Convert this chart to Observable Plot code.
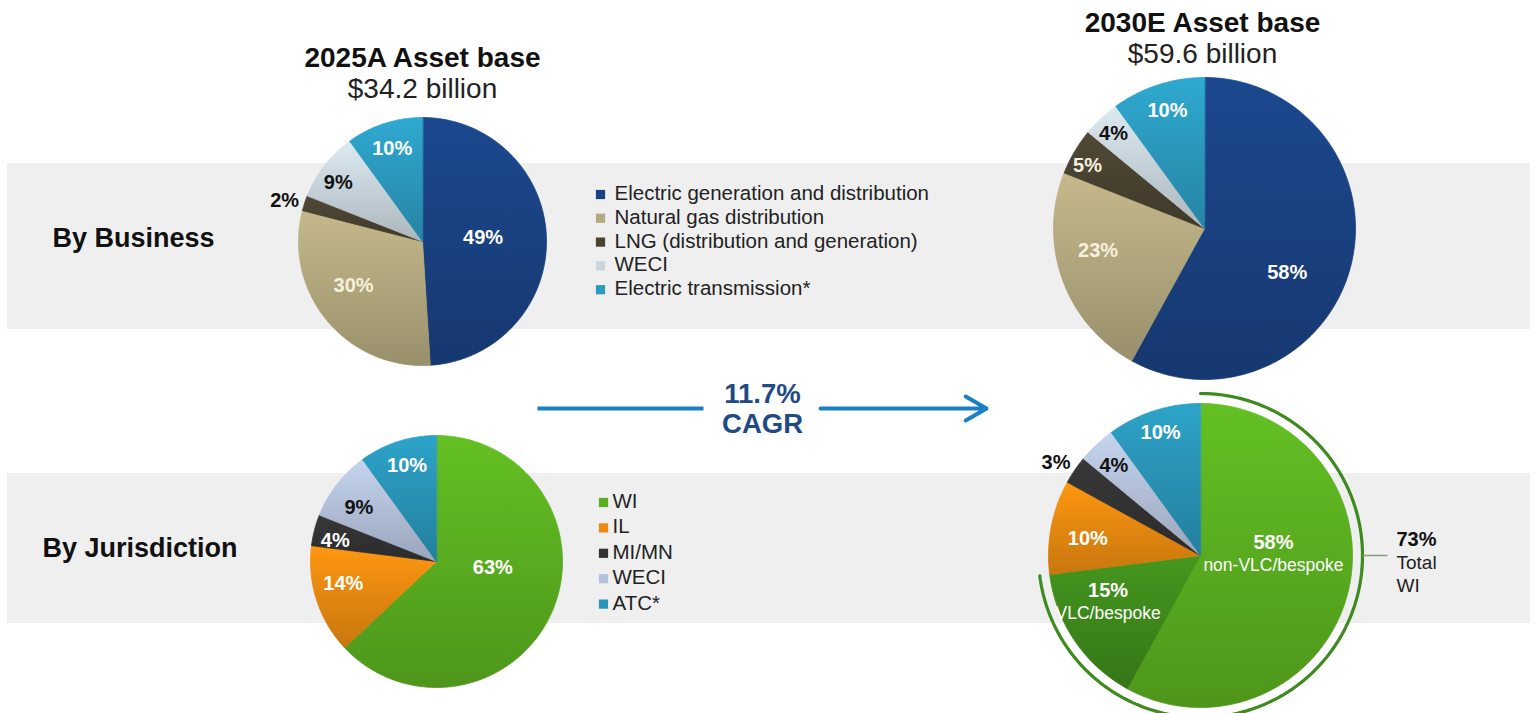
<!DOCTYPE html>
<html><head><meta charset="utf-8">
<script src="https://cdn.jsdelivr.net/npm/d3@7"></script>
<script src="https://cdn.jsdelivr.net/npm/@observablehq/plot@0.6"></script>
<style>html,body{margin:0;padding:0;background:#fff;} #chart svg{display:block;}</style>
</head><body><div id="chart"></div>
<script>
// ---------- DATA ----------
const titles = ["2025A Asset base", "2030E Asset base"];
const assetBase = ["$34.2 billion", "$59.6 billion"];
const rowLabels = ["By Business", "By Jurisdiction"];
const cagrText = ["11.7%", "CAGR"];

const businessCategories = ["Electric generation and distribution", "Natural gas distribution", "LNG (distribution and generation)", "WECI", "Electric transmission*"];
const business2025 = [49, 30, 2, 9, 10];
const business2030 = [58, 23, 5, 4, 10];

const jurisdictionCategories = ["WI", "IL", "MI/MN", "WECI", "ATC*"];
const jurisdiction2025 = [63, 14, 4, 9, 10];
const jurisdiction2030Categories = ["WI non-VLC/bespoke", "WI VLC/bespoke", "IL", "MI/MN", "WECI", "ATC*"];
const jurisdiction2030 = [58, 15, 10, 3, 4, 10];
const jurisdiction2030Sublabels = ["non-VLC/bespoke", "VLC/bespoke", "", "", "", ""];
const wiTotalWords = ["Total", "WI"];

// ---------- STYLE / LAYOUT ----------
const businessColors = ["#1a4283", "#b4a97f", "#4a4331", "#c9d6dd", "#2b9bbf"];
const jurisdictionColors = ["#5bb020", "#ea8a10", "#333333", "#b5c2db", "#2995b8"];
const jurisdiction2030Colors = ["#5bb020", "#3e8a1b", "#ea8a10", "#333333", "#b5c2db", "#2995b8"];

const pies = [
  {id: "b25", values: business2025, colors: businessColors, cx: 422, cy: 241, r: 124,
   lab: [[0.49, -2], [0.66, 7], [1.16, -1.5], [0.83, -2.7], [0.79, 0]]},
  {id: "b30", values: business2030, colors: businessColors, cx: 1204, cy: 228, r: 151,
   lab: [[0.62, 13.5], [0.72, 8], [0.88, -2.3], [0.87, -0.6], [0.82, 0.6]]},
  {id: "j25", values: jurisdiction2025, colors: jurisdictionColors, cx: 436, cy: 561, r: 126,
   lab: [[0.45, -17], [0.76, 4.7], [0.82, -2.7], [0.75, -3], [0.80, 1]]},
  {id: "j30", values: jurisdiction2030, colors: jurisdiction2030Colors, cx: 1200, cy: 555, r: 152,
   lab: [[0.48, -16], [0.68, 7.6], [0.75, -2.2], [1.13, -1.5], [0.82, -0.8], [0.85, 0]], sub: jurisdiction2030Sublabels}
];

const FONT = "'Liberation Sans', Arial, Helvetica, sans-serif";
const deg = Math.PI / 180;

// ---------- GEOMETRY FROM DATA ----------
const wedgeRows = [];
const labelRows = [];
const subRows = [];
const gradients = [];
pies.forEach(p => {
  const arcs = d3.pie().sort(null).value(d => d)(p.values);
  p.arcs = arcs;
  arcs.forEach((a, i) => {
    const key = p.id + "-" + i;
    const base = p.colors[i];
    gradients.push({id: "g-" + key, top: d3.color(base).brighter(0.25).formatHex(), bottom: d3.color(base).darker(0.45).formatHex()});
    const fill = "url(#g-" + key + ")";
    wedgeRows.push({key, fill, x: p.cx, y: p.cy});
    const n = Math.max(2, Math.ceil((a.endAngle - a.startAngle) / deg));
    for (let k = 0; k <= n; k++) {
      const t = a.startAngle + (a.endAngle - a.startAngle) * k / n;
      wedgeRows.push({key, fill, x: p.cx + p.r * Math.sin(t), y: p.cy - p.r * Math.cos(t)});
    }
    const [f, off] = p.lab[i];
    const m = (a.startAngle + a.endAngle) / 2 + off * deg;
    const lx = p.cx + f * p.r * Math.sin(m), ly = p.cy - f * p.r * Math.cos(m);
    const hsl = d3.hsl(base);
    const dark = f > 1 || hsl.l > 0.65;
    const hasSub = p.sub && p.sub[i];
    const light = (hsl.h > 30 && hsl.h < 60 && hsl.s < 0.4) ? "#f6f1de" : "#ffffff";
    labelRows.push({text: p.values[i] + "%", x: lx, y: hasSub ? ly - 11 : ly, fill: dark ? "#111111" : light});
    if (hasSub) subRows.push({text: p.sub[i], x: lx, y: ly + 12});
  });
});

// WI total ring around the 2030 jurisdiction pie
const pj = pies[3];
const wiShare = jurisdiction2030[0] + jurisdiction2030[1];
const ringEnd = pj.arcs[1].endAngle;
const ringR = pj.r + 10;
const ringRows = d3.range(0, 201).map(k => {
  const t = ringEnd * k / 200;
  return {x: pj.cx + ringR * Math.sin(t), y: pj.cy - ringR * Math.cos(t)};
});

// legends
const legend1 = businessCategories.map((c, i) => ({c, fill: businessColors[i], y: 193 + i * 23.8}));
const legend2 = jurisdictionCategories.map((c, i) => ({c, fill: jurisdictionColors[i], y: 501 + i * 25.4}));

const chart = Plot.plot({
  width: 1535, height: 713,
  margin: 0,
  x: {domain: [0, 1535], range: [0, 1535], axis: null},
  y: {domain: [0, 713], range: [0, 713], axis: null},
  color: {type: "identity"},
  style: {fontFamily: FONT, background: "#ffffff", overflow: "visible"},
  marks: [
    // bands
    Plot.rect(rowLabels, {x1: 7, x2: 1530, y1: [163, 473], y2: [329, 623], fill: "#efefef"}),
    // row labels
    Plot.text(rowLabels, {text: d => d, x: [52, 42], y: [238, 548], textAnchor: "start", fontSize: 27, fontWeight: "bold", fill: "#111"}),
    // titles
    Plot.text(titles, {text: d => d, x: [422, 1202], y: [58, 23], fontSize: 28, fontWeight: "bold", fill: "#111"}),
    Plot.text(assetBase, {text: d => d, x: [422, 1202], y: [89, 54], fontSize: 28, fill: "#222"}),
    // wedges
    Plot.line(wedgeRows, {x: "x", y: "y", z: "key", fill: "fill", stroke: "fill", strokeWidth: 0.8, curve: "linear-closed"}),
    // WI ring + connector
    Plot.line(ringRows, {x: "x", y: "y", stroke: "#3d8a1e", strokeWidth: 3.2}),
    Plot.link([wiShare], {x1: pj.cx + ringR, x2: pj.cx + ringR + 25, y1: pj.cy, y2: pj.cy, stroke: "#7f9f75", strokeWidth: 1.5}),
    Plot.text([wiShare], {text: d => d + "%", x: pj.cx + ringR + 34, y: 539, textAnchor: "start", fontSize: 20, fontWeight: "bold", fill: "#111"}),
    Plot.text(wiTotalWords, {text: d => d, x: pj.cx + ringR + 34, y: (d, i) => 562 + i * 23, textAnchor: "start", fontSize: 19, fill: "#222"}),
    // pie labels
    Plot.text(labelRows, {text: "text", x: "x", y: "y", fill: "fill", fontSize: 20, fontWeight: "bold"}),
    Plot.text(subRows, {text: "text", x: "x", y: "y", fill: "#ffffff", fontSize: 17.5}),
    // legends
    Plot.dot(legend1, {x: 600, y: d => d.y + 1, symbol: "square", r: 5.2, fill: "fill"}),
    Plot.text(legend1, {text: "c", x: 614, y: "y", textAnchor: "start", fontSize: 20.5, fill: "#222"}),
    Plot.dot(legend2, {x: 603, y: d => d.y + 1, symbol: "square", r: 5.2, fill: "fill"}),
    Plot.text(legend2, {text: "c", x: 612, y: "y", textAnchor: "start", fontSize: 20.5, fill: "#222"}),
    // CAGR arrow
    Plot.link([0], {x1: 537, x2: 703, y1: 408, y2: 408, stroke: "#1a80c6", strokeWidth: 4}),
    Plot.arrow([0], {x1: 820, x2: 986, y1: 408, y2: 408, stroke: "#1a80c6", strokeWidth: 4, headLength: 9}),
    Plot.text(cagrText, {text: d => d, x: 762, y: [394, 424], fontSize: 27.5, fontWeight: "bold", fill: "#1f4a85"})
  ]
});

// gradient definitions for the wedge fills
const svg = d3.select(chart);
const defs = svg.insert("defs", ":first-child");
gradients.forEach(g => {
  const lg = defs.append("linearGradient").attr("id", g.id).attr("x1", 0).attr("y1", 0).attr("x2", 0).attr("y2", 1);
  lg.append("stop").attr("offset", "0%").attr("stop-color", g.top);
  lg.append("stop").attr("offset", "100%").attr("stop-color", g.bottom);
});
document.getElementById("chart").appendChild(chart);
</script>
</body></html>
